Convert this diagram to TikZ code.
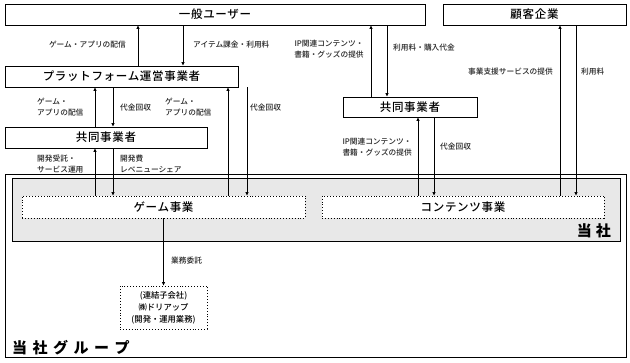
\documentclass[tikz,border=0pt]{standalone}
\usepackage{fontspec}
\setmainfont{Noto Sans CJK JP}
\newfontfamily\medfont{Noto Sans CJK JP}[UprightFont=* Medium]
\usetikzlibrary{arrows.meta}
\begin{document}
\begin{tikzpicture}[x=1pt,y=-1pt,
  bfont/.style={font=\medfont\fontsize{11.5}{13}\selectfont\addfontfeature{LetterSpace=6}},
  box/.style={draw=black,line width=0.9pt,fill=white,minimum height=21pt,inner sep=0pt,bfont},
  dbox/.style={draw=black,dotted,line width=0.9pt,fill=white,inner sep=0pt,bfont},
  lbl/.style={font=\medfont\fontsize{7.7}{11}\selectfont,inner sep=0pt,text=black!85},
  arr/.style={line width=0.8pt,-{Triangle[length=3.5pt,width=3pt]}}]
\useasboundingbox (0,0) rectangle (630,363);
% group frames
\node[draw=black,line width=1pt,minimum width=621pt,minimum height=183pt,inner sep=0pt] (grp) at (315.5,266.5) {};
\node[draw=black,line width=1pt,fill=black!9,minimum width=608pt,minimum height=63pt,inner sep=0pt] (self) at (316,210.5) {};
% boxes
\node[box,minimum width=420pt] (user) at (215,14.5) {一般ユーザー};
\node[box,minimum width=183pt] (client) at (534.5,14.5) {顧客企業};
\node[box,minimum width=233pt] (plat) at (121.5,76.5) {プラットフォーム運営事業者};
\node[box,minimum width=134pt,minimum height=20pt] (coR) at (410,107) {共同事業者};
\node[box,minimum width=202pt] (coL) at (106,137.5) {共同事業者};
\node[dbox,minimum width=283pt,minimum height=22pt] (game) at (163.5,207) {ゲーム事業};
\node[dbox,minimum width=282pt,minimum height=22pt] (cont) at (463,207) {コンテンツ事業};
\node[dbox,minimum width=87pt,minimum height=43pt,align=center,font=\medfont\fontsize{8.3}{12}\selectfont] (dream) at (163.5,307.5) {(連結子会社)\\㈱ドリアップ\\(開発・運用業務)};
% arrows
\draw[arr] (plat.north -| 138,0) -- (user.south -| 138,0);
\draw[arr] (user.south -| 183,0) -- (plat.north -| 183,0);
\draw[arr] (coR.north -| 371,0) -- (user.south -| 371,0);
\draw[arr] (user.south -| 387,0) -- (coR.north -| 387,0);
\draw[arr] (cont.north -| 560,0) -- (client.south -| 560,0);
\draw[arr] (client.south -| 576,0) -- (cont.north -| 576,0);
\draw[arr] (coL.north -| 95,0) -- (plat.south -| 95,0);
\draw[arr] (plat.south -| 113,0) -- (coL.north -| 113,0);
\draw[arr] (game.north -| 228,0) -- (plat.south -| 228,0);
\draw[arr] (plat.south -| 247,0) -- (game.north -| 247,0);
\draw[arr] (game.north -| 95,0) -- (coL.south -| 95,0);
\draw[arr] (coL.south -| 113,0) -- (game.north -| 113,0);
\draw[arr] (cont.north -| 418,0) -- (coR.south -| 418,0);
\draw[arr] (coR.south -| 434,0) -- (cont.north -| 434,0);
\draw[arr] (game.south) -- (dream.north);
% labels
\node[lbl,anchor=east] (l1) at (126,45) {ゲーム・アプリの配信};
\node[lbl,anchor=west] (l2) at (193,45) {アイテム課金・利用料};
\node[lbl,align=center] (l3) at (329,49) {IP関連コンテンツ・\\書籍・グッズの提供};
\node[lbl,anchor=west] (l4) at (393,48) {利用料・購入代金};
\node[lbl,anchor=east] (l5) at (553,72) {事業支援サービスの提供};
\node[lbl,anchor=west] (l6) at (581,72) {利用料};
\node[lbl,anchor=west,align=left] (l7) at (37,107) {ゲーム・\\アプリの配信};
\node[lbl,anchor=west] (l8) at (120,108) {代金回収};
\node[lbl,anchor=west,align=left] (l9) at (165,107) {ゲーム・\\アプリの配信};
\node[lbl,anchor=west] (l10) at (250,108) {代金回収};
\node[lbl,anchor=west,align=left] (l11) at (37,164) {開発受託・\\サービス運用};
\node[lbl,anchor=west,align=left] (l12) at (120,164) {開発費\\レベニューシェア};
\node[lbl,anchor=east,align=left] (l13) at (412,147) {IP関連コンテンツ・\\書籍・グッズの提供};
\node[lbl,anchor=west] (l14) at (440,147) {代金回収};
\node[lbl,anchor=west] (l15) at (171,261) {業務委託};
\node[anchor=east,inner sep=0pt,font=\fontsize{15}{17}\bfseries\selectfont] (t1) at (611,231) {当\hspace{4pt}社};
\node[anchor=west,inner sep=0pt,font=\fontsize{15}{17}\bfseries\selectfont] (t2) at (12,348) {当\hspace{5.5pt}社\hspace{5.5pt}グ\hspace{5.5pt}ル\hspace{5.5pt}ー\hspace{5.5pt}プ};
\end{tikzpicture}
\end{document}
